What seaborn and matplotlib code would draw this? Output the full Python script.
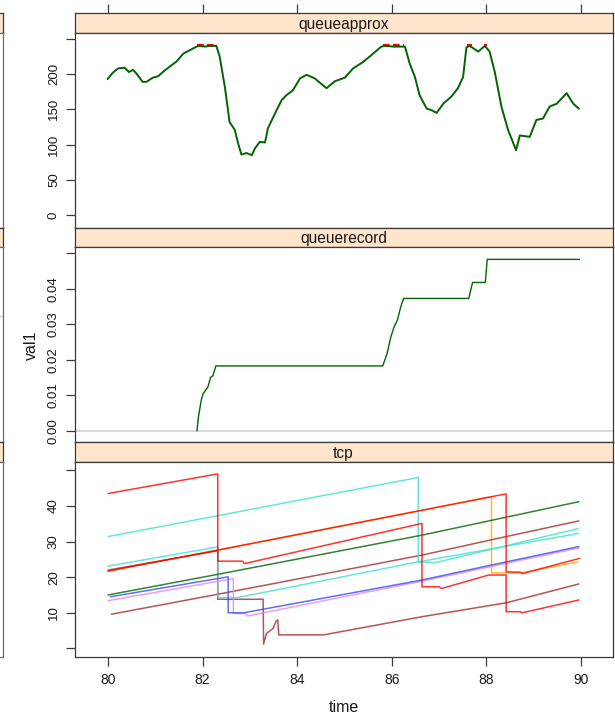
import matplotlib
matplotlib.use("Agg")
import matplotlib.pyplot as plt
import numpy as np
import pandas as pd
import seaborn as sns

# ---------------------------------------------------------------- data
# queueapprox: estimated queue length over time
qa_time = [79.99, 80.10, 80.21, 80.35, 80.44, 80.53, 80.61, 80.73, 80.81, 80.95,
           81.06, 81.16, 81.31, 81.45, 81.59, 81.76, 81.87, 81.94, 82.05, 82.15,
           82.29, 82.36, 82.47, 82.57, 82.68, 82.75, 82.82, 82.93, 83.04, 83.11,
           83.21, 83.32, 83.38, 83.53, 83.67, 83.77, 83.91, 84.06, 84.20, 84.37,
           84.62, 84.80, 85.01, 85.18, 85.39, 85.57, 85.78, 85.85, 86.05, 86.28,
           86.38, 86.49, 86.59, 86.74, 86.84, 86.95, 87.09, 87.26, 87.40, 87.51,
           87.58, 87.65, 87.83, 87.97, 88.07, 88.18, 88.32, 88.46, 88.63, 88.71,
           88.92, 89.06, 89.20, 89.34, 89.49, 89.70, 89.84, 89.96]
qa_len = [193, 202, 208, 209, 203, 206, 200, 189, 189, 195,
          197, 203, 211, 218, 229, 235, 239, 240, 239, 240,
          240, 225, 182, 132, 121, 102, 86, 88, 85, 95,
          104, 103, 123, 144, 163, 170, 177, 194, 199, 194,
          180, 190, 195, 208, 217, 227, 239, 240, 239, 239,
          215, 196, 170, 151, 149, 145, 158, 168, 180, 196,
          238, 240, 232, 240, 232, 203, 154, 121, 92, 113,
          111, 135, 137, 154, 158, 173, 158, 151]
# intervals where the queue is pinned at its limit
cap_start = [81.88, 85.82, 87.59, 87.95]
cap_end = [82.29, 86.26, 87.69, 88.01]
cap_level = 242

# queuerecord: recorded drop fraction
qr_time = [81.88, 81.91, 81.97, 82.01, 82.11, 82.17, 82.22, 82.28, 85.81, 85.90,
           85.98, 86.05, 86.12, 86.19, 86.25, 87.63, 87.71, 87.98, 88.02, 89.97]
qr_val = [0.0, 0.0038, 0.0086, 0.0105, 0.0123, 0.0151, 0.0156, 0.0183, 0.0183, 0.0217,
          0.0264, 0.0293, 0.0312, 0.0349, 0.0373, 0.0373, 0.0418, 0.0418, 0.0483, 0.0483]
qr_ref = 0.0

# tcp: congestion window per flow
orange_t = [80.0, 82.32, 88.11, 88.11, 88.75, 89.94]
orange_w = [21.7, 27.6, 42.6, 21.2, 21.2, 24.3]
red1_t = [80.0, 82.32, 82.32, 82.85, 82.88, 86.64, 86.64, 87.0, 87.05, 88.05,
          88.42, 88.42, 88.72, 88.76, 89.96]
red1_w = [43.5, 49.0, 24.5, 24.5, 23.8, 35.1, 17.3, 17.3, 16.8, 20.6,
          20.6, 10.3, 10.3, 10.0, 13.6]
red2_t = [80.0, 82.32, 88.42, 88.42, 88.72, 88.76, 89.98]
red2_w = [21.7, 27.6, 43.4, 21.5, 21.4, 21.0, 25.3]
turq1_t = [80.0, 86.56, 86.56, 86.93, 89.96]
turq1_w = [31.4, 48.0, 24.3, 24.1, 33.7]
turq2_t = [80.0, 82.32, 82.32, 82.75, 86.56, 89.96]
turq2_w = [23.1, 28.5, 14.3, 14.3, 24.3, 32.3]
brown1_t = [80.0, 82.32, 82.32, 83.28, 83.29, 83.35, 83.49, 83.56, 83.59, 83.61,
            84.56, 86.64, 88.42, 89.96]
brown1_w = [22.0, 27.4, 13.8, 13.8, 1.2, 4.2, 5.6, 7.8, 8.0, 3.8,
            3.8, 8.9, 12.8, 18.1]
brown2_t = [80.07, 82.32, 86.64, 88.42, 89.96]
brown2_w = [9.6, 15.2, 26.2, 31.4, 35.8]
green_t = [80.0, 82.32, 86.64, 89.96]
green_w = [15.0, 20.8, 31.8, 41.2]
blue_t = [80.05, 82.54, 82.54, 82.87, 86.64, 88.0, 89.96]
blue_w = [14.5, 20.1, 10.0, 10.0, 19.2, 23.1, 28.6]
violet_t = [80.0, 82.65, 82.65, 82.90, 82.95, 86.64, 89.96]
violet_w = [13.4, 19.6, 9.8, 9.8, 9.1, 18.9, 28.2]

panel_names = ["queueapprox", "queuerecord", "tcp"]
x_ticks = [80, 82, 84, 86, 88, 90]
qa_ticks = [0, 50, 100, 150, 200, 250]
qa_labels = ["0", "50", "100", "150", "200", ""]
qr_ticks = [0.0, 0.01, 0.02, 0.03, 0.04, 0.05]
qr_labels = ["0.00", "0.01", "0.02", "0.03", "0.04", ""]
tcp_ticks = [0, 10, 20, 30, 40, 50]
tcp_labels = ["", "10", "20", "30", "40", ""]

# ---------------------------------------------------------------- tables
qa_df = pd.DataFrame({"time": qa_time, "val1": qa_len})
cap_df = pd.DataFrame({
    "time": [t for pair in zip(cap_start, cap_end) for t in pair],
    "val1": [cap_level] * (2 * len(cap_start)),
    "seg": [i for i in range(len(cap_start)) for _ in range(2)],
})
qr_df = pd.DataFrame({"time": qr_time, "val1": qr_val})

flows = [
    ("orange", orange_t, orange_w, "#FFA500"),
    ("brown2", brown2_t, brown2_w, "#A52A2A"),
    ("brown1", brown1_t, brown1_w, "#A52A2A"),
    ("turq2", turq2_t, turq2_w, "#40E0D0"),
    ("turq1", turq1_t, turq1_w, "#40E0D0"),
    ("green", green_t, green_w, "#006400"),
    ("violet", violet_t, violet_w, "#EE82EE"),
    ("blue", blue_t, blue_w, "#3050F0"),
    ("red2", red2_t, red2_w, "#FF0000"),
    ("red1", red1_t, red1_w, "#FF0000"),
]
tcp_df = pd.concat(
    [pd.DataFrame({"time": t, "val1": w, "flow": name}) for name, t, w, _ in flows],
    ignore_index=True,
)
flow_palette = {name: c for name, _, _, c in flows}

# ---------------------------------------------------------------- figure
sns.set_style("white")
plt.rcParams["font.family"] = ["Liberation Sans", "DejaVu Sans"]
TXT = "#1a1a1a"
EDGE = "#3a3a3a"
STRIP_BG = "#FFE5CC"

W, H = 615, 714
fig = plt.figure(figsize=(W / 100, H / 100), dpi=100)


def box(x0, y0, x1, y1):
    return [x0 / W, 1 - y1 / H, (x1 - x0) / W, (y1 - y0) / H]


TOP, STRIP, PANEL = 13.3, 19.5, 195.0
X0, X1 = 74.5, 612.5
XLIM = (79.29, 90.67)


def style_frame(ax, lw=0.9):
    for s in ax.spines.values():
        s.set_visible(True)
        s.set_color(EDGE)
        s.set_linewidth(lw)


panels = []
for i, name in enumerate(panel_names):
    ys = TOP + i * (STRIP + PANEL)
    # neighbouring column of the layout, only its right edge is in view
    ls = fig.add_axes(box(-300, ys, 3.3, ys + STRIP))
    ls.set_facecolor(STRIP_BG)
    ls.set_xticks([]); ls.set_yticks([])
    style_frame(ls)
    lp = fig.add_axes(box(-300, ys + STRIP, 3.3, ys + STRIP + PANEL))
    lp.set_xticks([]); lp.set_yticks([])
    style_frame(lp)
    for s in lp.spines.values():
        s.set_color("#6a6a6a")
    if i == 1:
        lp.set_ylim(-0.65, 0.35)
        lp.axhline(0, color="#d0d0d0", lw=1)

    st = fig.add_axes(box(X0, ys, X1, ys + STRIP))
    st.set_facecolor(STRIP_BG)
    st.set_xlim(XLIM)
    st.set_yticks([])
    style_frame(st)
    st.text(0.5, 0.45, name, transform=st.transAxes, ha="center", va="center",
            fontsize=11.2, color=TXT)
    if i == 0:
        st.xaxis.tick_top()
        st.set_xticks(x_ticks)
        st.tick_params(axis="x", top=True, labeltop=False, length=6.5,
                       width=0.9, color=EDGE, direction="out")
    else:
        st.set_xticks([])

    ax = fig.add_axes(box(X0, ys + STRIP, X1, ys + STRIP + PANEL))
    ax.set_xlim(XLIM)
    style_frame(ax)
    panels.append(ax)

ax1, ax2, ax3 = panels

# queueapprox
sns.lineplot(data=cap_df, x="time", y="val1", units="seg", estimator=None,
             sort=False, color="#FF0000", lw=1.6, dashes=False, ax=ax1)
for ln in ax1.get_lines():
    ln.set_dashes((3, 1.5))
sns.lineplot(data=qa_df, x="time", y="val1", estimator=None, sort=False,
             color="#006400", lw=1.4, ax=ax1)
ax1.set_ylim(-18, 258.6)
ax1.set_yticks(qa_ticks)
ax1.set_yticklabels(qa_labels)

# queuerecord
ax2.axhline(qr_ref, color="#cfcfcf", lw=1.1, zorder=1)
sns.lineplot(data=qr_df, x="time", y="val1", estimator=None, sort=False,
             color="#006400", lw=1.0, ax=ax2)
ax2.set_ylim(-0.0032, 0.0517)
ax2.set_yticks(qr_ticks)
ax2.set_yticklabels(qr_labels)

# tcp
sns.lineplot(data=tcp_df, x="time", y="val1", hue="flow", palette=flow_palette,
             estimator=None, sort=False, lw=1.1, alpha=0.8, legend=False, ax=ax3)
ax3.set_ylim(-2.36, 52.4)
ax3.set_yticks(tcp_ticks)
ax3.set_yticklabels(tcp_labels)

for ax in panels:
    ax.set_xlabel("")
    ax.set_ylabel("")
    ax.tick_params(axis="y", left=True, length=6.5, width=0.9, color=EDGE,
                   direction="out", pad=4, labelsize=9.5, labelcolor=TXT,
                   labelrotation=90)
    for lab in ax.get_yticklabels():
        lab.set_va("center")
        lab.set_ha("right")
    if ax is ax3:
        ax.set_xticks(x_ticks)
        ax.set_xticklabels([str(t) for t in x_ticks])
        ax.tick_params(axis="x", bottom=True, length=6.5, width=0.9, color=EDGE,
                       direction="out", pad=5, labelsize=10, labelcolor=TXT)
    else:
        ax.set_xticks([])

fig.text(343.5 / W, 1 - 707 / H, "time", ha="center", va="center",
         fontsize=11.5, color=TXT)
fig.text(31 / W, 1 - 345 / H, "val1", ha="center", va="center",
         rotation=90, fontsize=11.5, color=TXT)

fig.savefig("out.png", dpi=100, facecolor="white")
